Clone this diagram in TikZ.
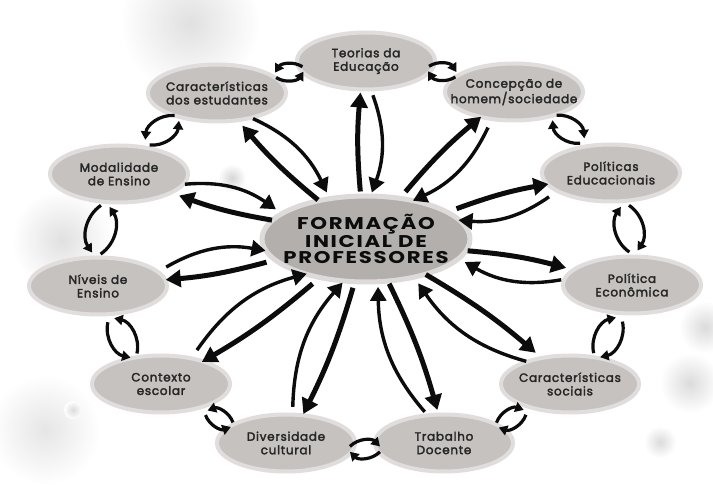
\documentclass[tikz,border=0pt]{standalone}
\usepackage{fontspec}
\setmainfont{Poppins}
\newfontfamily\outerfont{Poppins}[LetterSpace=6,FakeBold=2.5]
\newfontfamily\centerfont{Poppins}[LetterSpace=8]
\usetikzlibrary{arrows.meta,calc,shapes.geometric}
\definecolor{ovalgray}{RGB}{198,194,191}
\definecolor{txt}{RGB}{38,38,38}
\definecolor{ink}{RGB}{12,12,12}
\tikzset{
  oval/.style={ellipse, fill=ovalgray, draw=ovalgray!55!white, line width=4pt,
    minimum width=138pt, minimum height=57pt, inner sep=0pt},
  bigoval/.style={ellipse, fill=ovalgray!90!black, draw=ovalgray!60!white, line width=5pt,
    minimum width=208pt, minimum height=86pt, inner sep=0pt},
  otext/.style={align=center, text=txt, inner sep=0pt,
    font=\outerfont\fontsize{12}{13.5}\selectfont},
  ctext/.style={align=center, text=ink, inner sep=0pt, xscale=1.25, transform shape,
    font=\centerfont\bfseries\fontsize{17}{15.5}\selectfont},
  spokeA/.style={draw=ink, line width=5pt, -{Triangle[length=15pt,width=17pt]},
    shorten >=1pt, shorten <=2pt},
  spokeB/.style={draw=ink, line width=3.4pt, -{Triangle[length=14pt,width=16pt]},
    shorten >=1pt, shorten <=4pt},
  swapline/.style={draw=ink, line width=3.2pt, -{Triangle[length=8.5pt,width=10pt]}},
  blob/.style={inner color=black!#1, outer color=white},
  swapcw/.pic={
    \draw[swapline] (-1,.18) to[bend left=45] (1,.18);
    \draw[swapline] (1,-.18) to[bend left=45] (-1,-.18);
  },
  swapccw/.pic={
    \draw[swapline] (1,.18) to[bend right=45] (-1,.18);
    \draw[swapline] (-1,-.18) to[bend right=45] (1,-.18);
  }
}
\newcommand\spokeof[1]{%
  \path (c) -- (#1) coordinate[pos=0] (s1) coordinate[pos=1] (s2);
  \draw[spokeA] ($(s1)!5.5pt!90:(s2)$) to[bend left=5] ($(s2)!5.5pt!-90:(s1)$);
  \draw[spokeB] ($(s2)!5.5pt!90:(s1)$) to[bend left=20] ($(s1)!5.5pt!-90:(s2)$);
}
\newcommand\swapof[4]{%
  \path let \p1=($(#2)-(#1)$), \n1={atan2(\y1,\x1)} in
    ($(c)!1.03!($(#1)!.5!(#2)$)$) pic[rotate=\n1, scale=#3] {#4};
}
\begin{document}
\begin{tikzpicture}[x=1pt,y=1pt]
\useasboundingbox (0,0) rectangle (713,485);
\fill[white] (0,0) rectangle (713,485);
% faint background bubbles
\shade[blob=12] (190,462) circle (70);
\shade[blob=12] (62,245) circle (50);
\shade[blob=16] (232,307) circle (14);
\shade[blob=14] (705,158) circle (26);
\shade[blob=14] (690,102) circle (30);
\shade[blob=14] (660,43) circle (16);
\shade[blob=10] (45,55) circle (55);
\shade[blob=14] (73,75) circle (9);

% nodes
\node[bigoval] (c) at (366,246) {};
\node[oval] (teo) at (366,424) {};
\node[oval] (con) at (514,393) {};
\node[oval] (ced) at (217,392) {};
\node[oval] (pe)  at (611,312) {};
\node[oval] (mod) at (119,311) {};
\node[oval] (eco) at (632,200) {};
\node[oval] (niv) at (98,199) {};
\node[oval] (soc) at (570,101) {};
\node[oval] (ctx) at (161,101) {};
\node[oval] (tra) at (444,42) {};
\node[oval] (div) at (286,42) {};

\node[ctext] (c-t) at (c) {FORMAÇÃO\\INICIAL DE\\PROFESSORES};
\node[otext] (teo-t) at (teo) {Teorias da\\Educação};
\node[otext] (con-t) at (con) {Concepção de\\homem/sociedade};
\node[otext] (ced-t) at (ced) {Características\\dos estudantes};
\node[otext] (pe-t)  at (pe)  {Políticas\\Educacionais};
\node[otext] (mod-t) at (mod) {Modalidade\\de Ensino};
\node[otext] (eco-t) at (eco) {Política\\Econômica};
\node[otext] (niv-t) at (niv) {Níveis de\\Ensino};
\node[otext] (soc-t) at (soc) {Características\\sociais};
\node[otext] (ctx-t) at (ctx) {Contexto\\escolar};
\node[otext] (tra-t) at (tra) {Trabalho\\Docente};
\node[otext] (div-t) at (div) {Diversidade\\cultural};

% spokes
\spokeof{teo}
\spokeof{con}
\spokeof{ced}
\spokeof{pe}
\spokeof{mod}
\spokeof{eco}
\spokeof{niv}
\spokeof{soc}
\spokeof{ctx}
\spokeof{tra}
\spokeof{div}

% ring swaps
\swapof{ced}{teo}{14}{swapccw}
\swapof{teo}{con}{14}{swapcw}
\swapof{mod}{ced}{19}{swapccw}
\swapof{con}{pe}{18}{swapcw}
\swapof{niv}{mod}{24}{swapccw}
\swapof{pe}{eco}{23}{swapcw}
\swapof{ctx}{niv}{21}{swapccw}
\swapof{eco}{soc}{21}{swapcw}
\swapof{div}{ctx}{14}{swapccw}
\swapof{soc}{tra}{15}{swapcw}
\swapof{div}{tra}{15}{swapcw}
\end{tikzpicture}
\end{document}
